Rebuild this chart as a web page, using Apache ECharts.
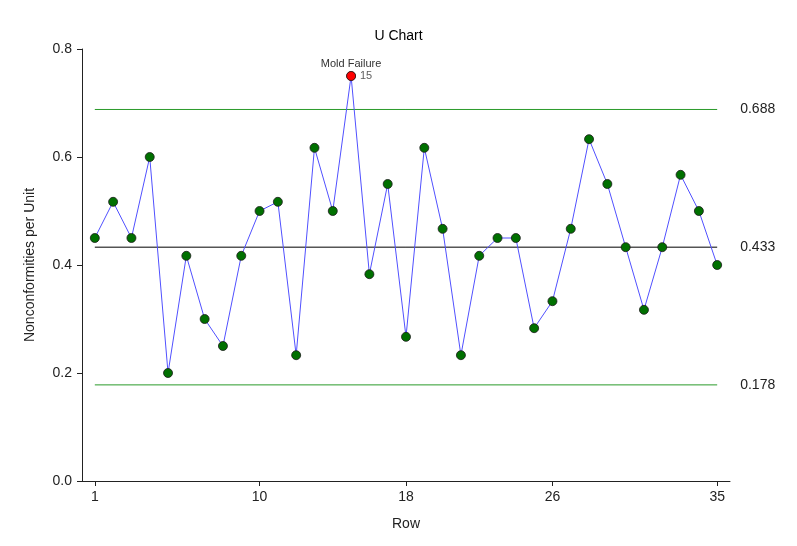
<!DOCTYPE html>
<html><head><meta charset="utf-8">
<script src="https://cdn.jsdelivr.net/npm/echarts@6/dist/echarts.min.js"></script>
<style>html,body{margin:0;padding:0;background:#fff}#c{width:797px;height:546px}</style>
</head><body><div id="c"></div>
<script>
const rows = [1,2,3,4,5,6,7,8,9,10,11,12,13,14,15,16,17,18,19,20,21,22,23,24,25,26,27,28,29,30,31,32,33,34,35];
const uValues = [0.45,0.517,0.45,0.6,0.2,0.417,0.3,0.25,0.417,0.5,0.517,0.233,0.617,0.5,0.75,0.383,0.55,0.267,0.617,0.467,0.233,0.417,0.45,0.45,0.283,0.333,0.467,0.633,0.55,0.433,0.317,0.433,0.567,0.5,0.4];
const ucl = 0.688, cl = 0.433, lcl = 0.178;
const xTicks = [1,10,18,26,35];
const outOfControlRow = 15;
const annotationText = 'Mold Failure';

const font = 'Liberation Sans, Arial, sans-serif';
const chart = echarts.init(document.getElementById('c'), null, {renderer:'canvas'});
const pts = rows.map((r,i)=> r===outOfControlRow
  ? {value:[r,uValues[i]], itemStyle:{color:'#ff0000'}, label:{show:true, position:'top', distance:2, formatter:annotationText, fontSize:11, color:'#333', fontFamily:font}}
  : [r,uValues[i]]);
function limitSeries(v,color){
  return {type:'line', data:[[rows[0],v],[rows[rows.length-1],v]], symbol:'none', silent:true,
    color:color, itemStyle:{color:color},
    lineStyle:{color:color,width:1}, z:1,
    endLabel:{show:true, formatter:v.toFixed(3), distance:23, fontSize:14, color:'#222', fontFamily:font}};
}
chart.setOption({
  animation:false,
  title:{text:'U Chart', left:'center', top:24, textStyle:{fontSize:14, fontWeight:'normal', color:'#000', fontFamily:font}},
  grid:{left:82, right:67, top:49, bottom:65, containLabel:false},
  xAxis:{type:'value', min:0.3, max:35.7, name:'Row', nameLocation:'middle', nameGap:36,
    nameTextStyle:{fontSize:14, color:'#222', fontFamily:font},
    axisLine:{show:true, onZero:false, lineStyle:{color:'#222'}},
    axisTick:{show:true, length:5, customValues:xTicks, lineStyle:{color:'#222'}},
    axisLabel:{customValues:xTicks, fontSize:14, color:'#222', margin:9, fontFamily:font},
    splitLine:{show:false}},
  yAxis:{type:'value', min:0, max:0.8, interval:0.2, name:'Nonconformities per Unit', nameLocation:'middle', nameGap:45,
    nameTextStyle:{fontSize:14, color:'#222', fontFamily:font},
    axisLine:{show:true, lineStyle:{color:'#222'}},
    axisTick:{show:true, length:5, lineStyle:{color:'#222'}},
    axisLabel:{formatter:v=>v.toFixed(1), fontSize:14, color:'#222', margin:10, fontFamily:font},
    splitLine:{show:false}},
  series:[
    limitSeries(ucl,'#2a9a2a'),
    limitSeries(cl,'#000000'),
    limitSeries(lcl,'#2a9a2a'),
    {type:'line', data:pts, symbol:'circle', symbolSize:9, z:3,
     lineStyle:{color:'#5050ff', width:1},
     itemStyle:{color:'#007000', borderColor:'#1a1a1a', borderWidth:0.8}},
    {type:'scatter', data:[[outOfControlRow, uValues[rows.indexOf(outOfControlRow)]]], symbolSize:9, z:4,
     itemStyle:{color:'#ff0000', borderColor:'#1a1a1a', borderWidth:0.8},
     label:{show:true, position:'right', distance:4, formatter:String(outOfControlRow), fontSize:11, color:'#333', fontFamily:font}}
  ]
});
</script></body></html>
